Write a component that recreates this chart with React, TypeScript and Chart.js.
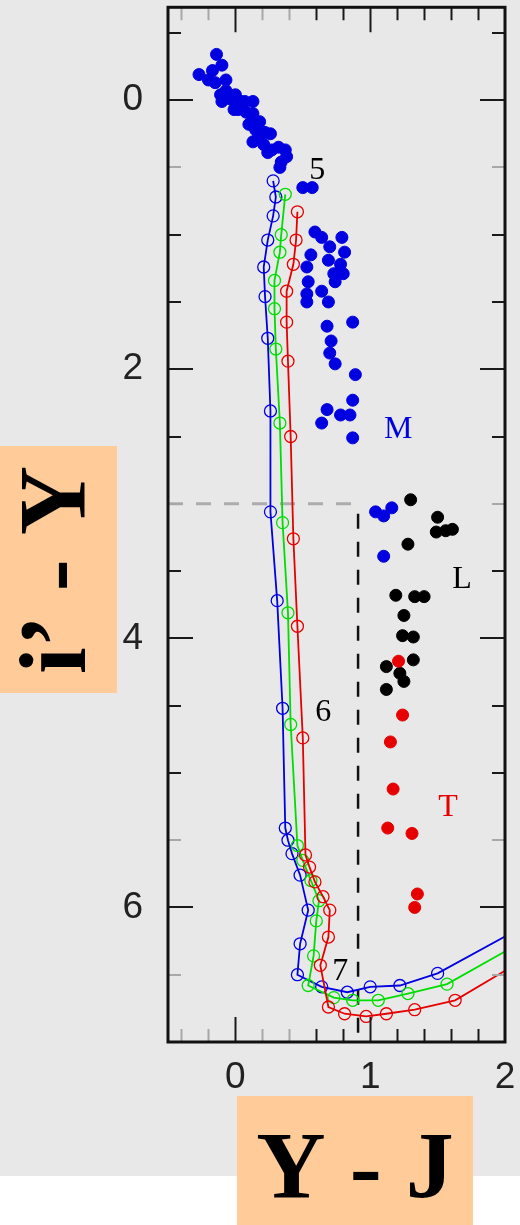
import React, { useEffect, useRef } from "react";
import { Chart, registerables } from "chart.js";

Chart.register(...registerables);

// ---------- axes ----------
const X_MIN = -0.5;
const X_MAX = 2;
const Y_MIN = -0.69;
const Y_MAX = 7.0;
const xTickLabels = [0, 1, 2];
const yTickLabels = [0, 2, 4, 6];
const xMinorTicks = [-0.4, -0.2, 0.2, 0.4, 0.6, 0.8, 1.2, 1.4, 1.6, 1.8];
const xMajorTicks = [0, 1];
const yMinorTicks = [-0.5, 0.5, 1, 1.5, 2.5, 3, 3.5, 4.5, 5, 5.5, 6.5];
const yMajorTicks = [0, 2, 4, 6];
const xTitle = "Y - J";
const yTitle = "i\u2019 - Y";

// ---------- observed dwarfs ----------
const mDwarfX = [
  -0.14, -0.1, -0.27, -0.2, -0.17, -0.15, -0.07, -0.11, -0.07, 0.0, -0.1, -0.04, 0.04, 0.07, 0.13, -0.01, 0.02, 0.08, 0.13,
  0.18, 0.1, 0.15, 0.22, 0.26, 0.17, 0.13, 0.21, 0.27, 0.32, 0.24, 0.37, 0.38, 0.34, 0.33,
  0.5, 0.57,
  0.59, 0.64, 0.79, 0.7, 0.81, 0.69, 0.78, 0.73, 0.8, 0.56, 0.53, 0.54, 0.53, 0.53, 0.64, 0.69, 0.74,
  0.87, 0.68, 0.71, 0.7, 0.74, 0.89, 0.87, 0.68, 0.64, 0.78, 0.85, 0.87,
  1.04, 1.16, 1.1, 1.1,
];
const mDwarfY = [
  -0.34, -0.26, -0.19, -0.15, -0.22, -0.13, -0.15, -0.04, -0.07, -0.04, 0.01, -0.01, 0.01, 0.01, 0.01, 0.07, 0.07, 0.09, 0.1,
  0.16, 0.18, 0.22, 0.24, 0.25, 0.28, 0.31, 0.33, 0.37, 0.35, 0.39, 0.37, 0.42, 0.46, 0.5,
  0.65, 0.65,
  0.98, 1.02, 1.02, 1.09, 1.13, 1.19, 1.22, 1.29, 1.29, 1.15, 1.24, 1.35, 1.44, 1.5, 1.42, 1.5, 1.35,
  1.65, 1.68, 1.79, 1.88, 1.96, 2.04, 2.23, 2.3, 2.4, 2.34, 2.34, 2.51,
  3.06, 3.03, 3.09, 3.39,
];

const lDwarfX = [1.3, 1.5, 1.49, 1.56, 1.61, 1.28, 1.19, 1.33, 1.4, 1.25, 1.24, 1.32, 1.12, 1.32, 1.22, 1.25, 1.12];
const lDwarfY = [2.97, 3.1, 3.21, 3.2, 3.19, 3.3, 3.68, 3.69, 3.69, 3.83, 3.98, 3.99, 4.21, 4.16, 4.26, 4.32, 4.38];

const tDwarfX = [1.21, 1.24, 1.15, 1.17, 1.13, 1.31, 1.35, 1.33];
const tDwarfY = [4.17, 4.57, 4.77, 5.12, 5.41, 5.45, 5.9, 6.0];

// ---------- model tracks ----------
const blueTrackX = [0.28, 0.3, 0.28, 0.24, 0.21, 0.22, 0.24, 0.26, 0.26, 0.31, 0.35, 0.37, 0.39, 0.42, 0.48, 0.54, 0.48, 0.46,
  0.64, 0.83, 1.0, 1.22, 1.5, 2.12];
const blueTrackY = [0.6, 0.72, 0.86, 1.04, 1.24, 1.46, 1.77, 2.31, 3.06, 3.72, 4.52, 5.41, 5.5, 5.6, 5.76, 6.02, 6.27, 6.5,
  6.59, 6.63, 6.59, 6.58, 6.49, 6.15];

const greenTrackX = [0.37, 0.34, 0.33, 0.29, 0.29, 0.3, 0.33, 0.35, 0.39, 0.41, 0.46, 0.5, 0.56, 0.62, 0.6, 0.58, 0.54, 0.73,
  0.87, 1.06, 1.28, 1.57, 2.12];
const greenTrackY = [0.7, 1.0, 1.13, 1.34, 1.55, 1.85, 2.4, 3.14, 3.81, 4.64, 5.54, 5.65, 5.8, 5.95, 6.1, 6.36, 6.58, 6.67,
  6.69, 6.69, 6.64, 6.57, 6.26];

const redTrackX = [0.46, 0.45, 0.43, 0.38, 0.38, 0.39, 0.41, 0.43, 0.46, 0.5, 0.52, 0.55, 0.59, 0.65, 0.7, 0.69, 0.63, 0.69,
  0.81, 0.97, 1.12, 1.33, 1.63, 2.12];
const redTrackY = [0.83, 1.04, 1.22, 1.42, 1.65, 1.94, 2.5, 3.26, 3.91, 4.74, 5.61, 5.7, 5.81, 5.92, 6.02, 6.22, 6.43, 6.74,
  6.79, 6.81, 6.79, 6.76, 6.69, 6.4];

// ---------- boundary lines ----------
const cutX = 0.91;
const cutY = 3.0;

// ---------- text annotations ----------
const annotText = ["5", "6", "7", "M", "L", "T"];
const annotX = [0.607, 0.652, 0.778, 1.207, 1.681, 1.578];
const annotY = [0.586, 4.613, 6.541, 2.514, 3.627, 5.318];

const BLUE = "#0000e0";
const GREEN = "#00dd00";
const RED = "#e60000";
const BLACK = "#000000";
const annotColor = [BLACK, BLACK, BLACK, BLUE, BLACK, RED];
// faint (anti-aliased) tick marks in the original
const faintTicks = [0.5, 3, 5.5, 6.5, -0.4, -0.2, 0.2, 0.4];

const pts = (xs: number[], ys: number[]) => xs.map((x, i) => ({ x, y: ys[i] }));

const dots = (label: string, xs: number[], ys: number[], color: string) => ({
  label,
  data: pts(xs, ys),
  showLine: false,
  pointRadius: 6,
  pointHoverRadius: 6,
  pointBorderWidth: 1,
  pointBackgroundColor: color,
  pointBorderColor: color,
});

const track = (label: string, xs: number[], ys: number[], color: string) => ({
  label,
  data: pts(xs, ys),
  showLine: true,
  borderColor: color,
  borderWidth: 1.8,
  tension: 0,
  pointRadius: 6,
  pointHoverRadius: 6,
  pointBorderWidth: 1.3,
  pointBackgroundColor: "rgba(0,0,0,0)",
  pointBorderColor: color,
  clip: 0,
});

const zeroPad = (s: any) => {
  s.paddingTop = 0;
  s.paddingBottom = 0;
  s.paddingLeft = 0;
  s.paddingRight = 0;
};

const decorPlugin = {
  id: "decor",
  beforeDraw(chart: any) {
    const ctx = chart.ctx as CanvasRenderingContext2D;
    ctx.save();
    ctx.fillStyle = "#e8e8e8";
    ctx.fillRect(0, 0, 520, 1176);
    ctx.fillStyle = "#ffcc99";
    ctx.fillRect(237, 1096, 236, 129);
    ctx.fillRect(0, 446, 117, 247);
    ctx.fillStyle = "#000";
    ctx.font = 'bold 96px "Liberation Serif"';
    ctx.textAlign = "center";
    ctx.textBaseline = "alphabetic";
    ctx.fillText(xTitle, 355, 1198);
    ctx.translate(85, 570);
    ctx.rotate(-Math.PI / 2);
    ctx.fillText(yTitle, 0, 0);
    ctx.restore();
  },
  afterDatasetsDraw(chart: any) {
    const ctx = chart.ctx as CanvasRenderingContext2D;
    const xs = chart.scales.x;
    const ys = chart.scales.y;
    ctx.save();
    ctx.font = '32px "Liberation Serif"';
    ctx.textAlign = "center";
    ctx.textBaseline = "alphabetic";
    annotText.forEach((t, i) => {
      ctx.fillStyle = annotColor[i];
      ctx.fillText(t, xs.getPixelForValue(annotX[i]), ys.getPixelForValue(annotY[i]));
    });
    ctx.restore();
  },
  afterDraw(chart: any) {
    const ctx = chart.ctx as CanvasRenderingContext2D;
    const { left, right, top, bottom } = chart.chartArea;
    const xs = chart.scales.x;
    const ys = chart.scales.y;
    ctx.save();
    ctx.lineWidth = 2;
    const minorLen = 13;
    const majorLen = 25;
    const col = (v: number) => (faintTicks.includes(v) ? "#a8a8a8" : "#1a1a1a");
    const drawX = (v: number, len: number) => {
      const p = Math.round(xs.getPixelForValue(v)) + 0.5;
      ctx.strokeStyle = col(v);
      ctx.beginPath();
      ctx.moveTo(p, top);
      ctx.lineTo(p, top + len);
      ctx.moveTo(p, bottom);
      ctx.lineTo(p, bottom - len);
      ctx.stroke();
    };
    const drawY = (v: number, len: number) => {
      const p = Math.round(ys.getPixelForValue(v));
      ctx.strokeStyle = col(v);
      ctx.beginPath();
      ctx.moveTo(left, p);
      ctx.lineTo(left + len, p);
      ctx.moveTo(right, p);
      ctx.lineTo(right - len, p);
      ctx.stroke();
    };
    xMinorTicks.forEach((v) => drawX(v, minorLen));
    xMajorTicks.forEach((v) => drawX(v, majorLen));
    yMinorTicks.forEach((v) => drawY(v, minorLen));
    yMajorTicks.forEach((v) => drawY(v, majorLen));
    ctx.lineWidth = 3;
    ctx.strokeStyle = "#111";
    ctx.strokeRect(left, top, right - left, bottom - top);
    ctx.restore();
  },
};

export default function App() {
  const ref = useRef<HTMLCanvasElement>(null);

  useEffect(() => {
    if (!ref.current) return;
    const tickFont = { family: '"Liberation Sans"', size: 37 };
    const chart = new Chart(ref.current, {
      type: "scatter",
      data: {
        datasets: [
          dots("T", tDwarfX, tDwarfY, RED),
          dots("L", lDwarfX, lDwarfY, BLACK),
          dots("M", mDwarfX, mDwarfY, BLUE),
          track("red track", redTrackX, redTrackY, RED),
          track("green track", greenTrackX, greenTrackY, GREEN),
          track("blue track", blueTrackX, blueTrackY, BLUE),
          {
            label: "L boundary",
            data: pts([cutX, cutX], [cutY, Y_MAX]),
            showLine: true,
            borderColor: "#111111",
            borderWidth: 2.5,
            borderDash: [15, 13],
            borderDashOffset: 18,
            pointRadius: 0,
            clip: 0,
          },
          {
            label: "M boundary",
            data: pts([X_MIN, cutX - 0.02], [cutY, cutY]),
            showLine: true,
            borderColor: "#acacac",
            borderWidth: 3,
            borderDash: [15, 13],
            pointRadius: 0,
            clip: 0,
          },
        ] as any,
      },
      options: {
        responsive: false,
        animation: false,
        events: [],
        layout: { padding: { left: 0, right: 15, top: 5, bottom: 0 } },
        plugins: { legend: { display: false }, tooltip: { enabled: false } },
        scales: {
          x: {
            type: "linear",
            position: "bottom",
            min: X_MIN,
            max: X_MAX,
            grid: { display: false, drawTicks: false },
            border: { display: false },
            ticks: { font: tickFont, color: "#222", padding: 14, maxRotation: 0 },
            afterBuildTicks: (s: any) => {
              s.ticks = xTickLabels.map((v) => ({ value: v }));
            },
            afterFit: (s: any) => {
              s.height = 183;
              zeroPad(s);
            },
          },
          y: {
            type: "linear",
            position: "left",
            reverse: true,
            min: Y_MIN,
            max: Y_MAX,
            grid: { display: false, drawTicks: false },
            border: { display: false },
            ticks: { font: tickFont, color: "#222", padding: 25 },
            afterBuildTicks: (s: any) => {
              s.ticks = yTickLabels.map((v) => ({ value: v }));
            },
            afterFit: (s: any) => {
              s.width = 168;
              zeroPad(s);
            },
          },
        },
      } as any,
      plugins: [decorPlugin],
    });
    return () => chart.destroy();
  }, []);

  return (
    <div style={{ position: "absolute", left: 0, top: 0, width: 520, height: 1225 }}>
      <canvas ref={ref} width={520} height={1225} style={{ display: "block", width: 520, height: 1225 }} />
    </div>
  );
}
